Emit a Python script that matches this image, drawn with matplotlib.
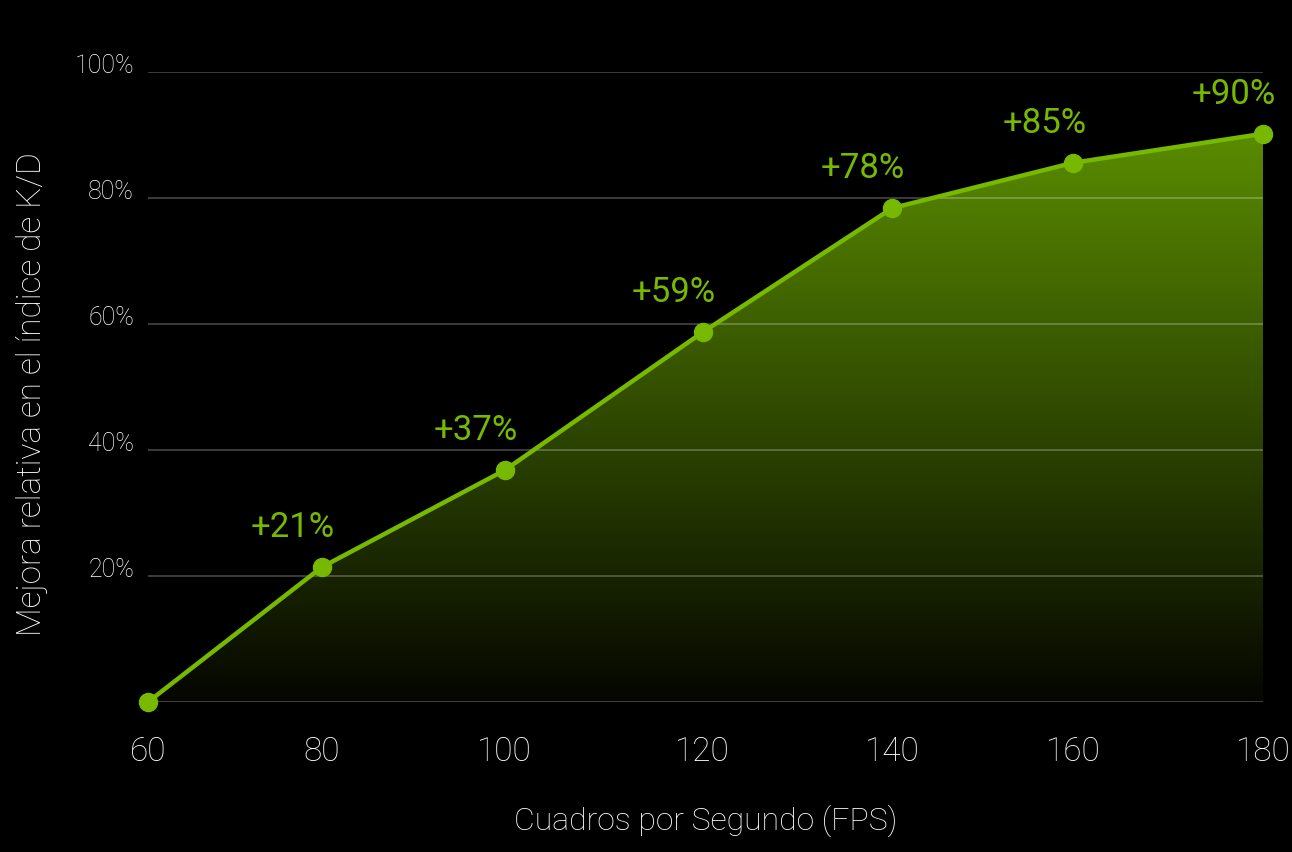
import numpy as np
import matplotlib
matplotlib.use("Agg")
import matplotlib.pyplot as plt
from matplotlib.colors import LinearSegmentedColormap

# datos
fps = [60, 78.7, 98.4, 119.7, 140.1, 159.6, 180]
etiquetas_x = ["60", "80", "100", "120", "140", "160", "180"]
mejora = [0, 21.4, 36.8, 58.7, 78.4, 85.6, 90.2]
textos = ["+21%", "+37%", "+59%", "+78%", "+85%", "+90%"]
yticks = [20, 40, 60, 80, 100]

verde = "#76b900"
plt.rcParams["font.family"] = ["Roboto", "DejaVu Sans"]
plt.rcParams["font.weight"] = "light"
plt.rcParams["axes.labelweight"] = "light"

fig = plt.figure(figsize=(12.92, 8.53), dpi=100, facecolor="black")
ax = fig.add_axes([148/1292, 1 - 703/853, (1263-148)/1292, (703-73)/853])
ax.set_facecolor("black")
ax.set_xlim(fps[0], fps[-1])
ax.set_ylim(0, 100)

# relleno con degradado
poly = ax.fill_between(fps, mejora, 0, facecolor="none", edgecolor="none")
cmap = LinearSegmentedColormap.from_list("g", ["#050600", "#5e9300"])
grad = np.linspace(0, 1, 256).reshape(-1, 1)
img = ax.imshow(grad, cmap=cmap, origin="lower", aspect="auto",
                extent=[fps[0], fps[-1], 0, 95], zorder=1)
img.set_clip_path(poly.get_paths()[0], transform=ax.transData)

# lineas de rejilla
for yv in [0] + yticks:
    ax.axhline(yv, color="white", alpha=0.28, lw=1.2, zorder=2)

ax.plot(fps, mejora, color=verde, lw=3.2, marker="o", markersize=13,
        zorder=4, clip_on=False)

for x, y, t in zip(fps[1:], mejora[1:], textos):
    ax.annotate(t, (x, y), xytext=(-21, 29), textcoords="offset points",
                ha="center", va="center", color=verde, fontsize=25,
                fontweight="normal", zorder=5)

for s in ax.spines.values():
    s.set_visible(False)

ax.set_xticks(fps)
ax.set_xticklabels(etiquetas_x)
ax.set_yticks(yticks)
ax.set_yticklabels([f"{v}%" for v in yticks])
ax.tick_params(axis="x", length=0, pad=24, colors="white", labelsize=24)
ax.tick_params(axis="y", length=0, pad=10, colors="white", labelsize=18)
for lab in ax.get_yticklabels():
    lab.set_verticalalignment("baseline")

ax.set_xlabel("Cuadros por Segundo (FPS)", color="white", fontsize=23, labelpad=26)
ax.set_ylabel("Mejora relativa en el índice de K/D", color="white", fontsize=24)
ax.yaxis.set_label_coords(-0.09, 0.49)

fig.savefig("out.png", dpi=100, facecolor="black")
